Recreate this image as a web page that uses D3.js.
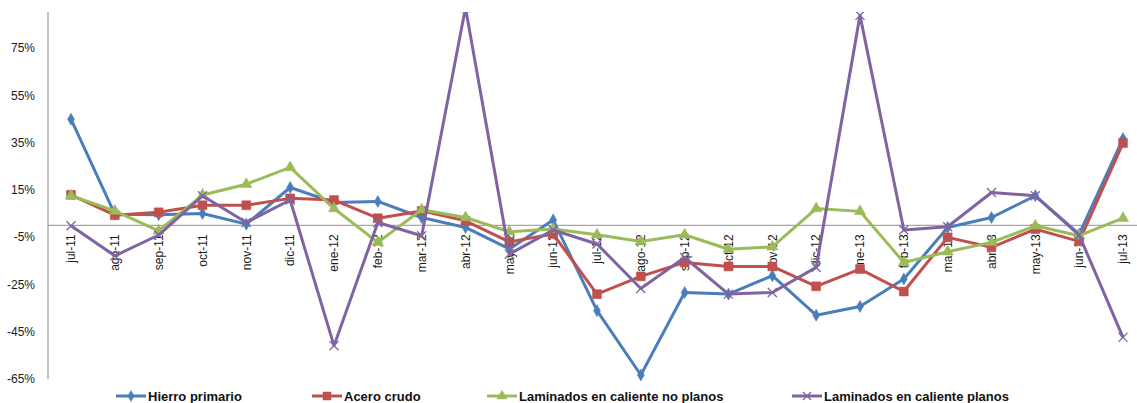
<!DOCTYPE html>
<html>
<head>
<meta charset="utf-8">
<script src="https://cdn.jsdelivr.net/npm/d3@7"></script>
<style>
  html, body { margin: 0; padding: 0; background: #fff; }
  svg { display: block; }
</style>
</head>
<body>
<svg id="chart" width="1137" height="403"></svg>
<script>
// Monthly variation (%) by product, jul-11 .. jul-13
const categories = ["jul-11","ago-11","sep-11","oct-11","nov-11","dic-11","ene-12","feb-12","mar-12","abr-12","may-12","jun-12",
  "jul-12","ago-12","sep-12","oct-12","nov-12","dic-12","ene-13","feb-13","mar-13","abr-13","may-13","jun-13","jul-13"];

const hierroPrimario = [44.9, 4.7, 4.5, 5.0, 0.5, 16.0, 9.7, 10.1, 3.3, -0.9, -10.0, 2.3,
  -36.1, -63.3, -28.4, -29.1, -21.3, -38.0, -34.3, -22.7, -0.9, 3.3, 12.5, -3.7, 36.7];
const aceroCrudo = [12.9, 4.3, 5.5, 8.5, 8.5, 11.4, 10.7, 3.0, 6.1, 1.9, -7.0, -3.7,
  -29.1, -21.6, -15.7, -17.4, -17.4, -25.8, -18.5, -28.0, -5.1, -9.3, -1.6, -6.8, 34.8];
const laminadosNoPlanos = [12.5, 6.1, -2.3, 12.8, 17.4, 24.5, 7.1, -7.2, 6.6, 3.3, -2.7, -1.6,
  -4.0, -6.8, -4.0, -10.1, -9.1, 7.1, 5.9, -15.7, -11.2, -7.2, -0.2, -4.4, 3.0];
const laminadosPlanos = [-0.2, -12.9, -4.1, 12.5, 1.2, 10.7, -50.9, 1.2, -4.4, 92.0, -12.2, -2.0,
  -7.9, -26.7, -13.6, -29.1, -28.4, -17.8, 88.8, -2.0, -0.6, 13.9, 12.5, -4.1, -47.4];

const seriesNames = ["Hierro primario", "Acero crudo", "Laminados en caliente no planos", "Laminados en caliente planos"];
const yTicks = [-65, -45, -25, -5, 15, 35, 55, 75];

const seriesValues = [hierroPrimario, aceroCrudo, laminadosNoPlanos, laminadosPlanos];
const colors = ["#4a7ebb", "#c0504d", "#9bbb59", "#8064a2"];
const symbols = [d3.symbolDiamond, d3.symbolSquare, d3.symbolTriangle, d3.symbolTimes || d3.symbolX];
const symSizes = [42, 80, 55, 55];

const svg = d3.select("#chart");
const W = 1137;
const axisX = 48, plotTop = 12, plotBottom = 379;
const font = "'Liberation Sans', Arial, sans-serif";

const y = d3.scaleLinear().domain([-65, 75]).range([379, 48]);
const x = d3.scalePoint().domain(categories).range([71, 1123]);

svg.append("defs").append("clipPath").attr("id", "plotClip")
  .append("rect").attr("x", axisX).attr("y", plotTop).attr("width", W - axisX).attr("height", plotBottom - plotTop + 6);

// Value axis
const yAxis = d3.axisLeft(y).tickValues(yTicks).tickSize(0).tickPadding(13).tickFormat(d => d + "%");
const gy = svg.append("g").attr("transform", `translate(${axisX},0)`).call(yAxis);
gy.select(".domain").remove();
gy.selectAll("text").attr("font-family", font).attr("font-size", 12).attr("fill", "#1a1a1a");
svg.append("line").attr("x1", axisX).attr("x2", axisX).attr("y1", plotTop).attr("y2", plotBottom)
  .attr("stroke", "#888").attr("stroke-width", 1);

// Category axis along zero
const y0 = y(0);
svg.append("line").attr("x1", axisX).attr("x2", W).attr("y1", y0).attr("y2", y0)
  .attr("stroke", "#a6a6a6").attr("stroke-width", 1.2);

svg.append("g").selectAll("text").data(categories).join("text")
  .attr("transform", d => `translate(${x(d)},${y0 + 9}) rotate(-90)`)
  .attr("text-anchor", "end").attr("dy", "0.35em")
  .attr("font-family", font).attr("font-size", 12).attr("fill", "#1a1a1a")
  .text(d => d);

// Series lines and markers
const plot = svg.append("g").attr("clip-path", "url(#plotClip)");
const line = d3.line().x((d, i) => x(categories[i])).y(d => y(d));

seriesValues.forEach((vals, s) => {
  const g = plot.append("g");
  g.append("path").datum(vals).attr("d", line)
    .attr("fill", "none").attr("stroke", colors[s]).attr("stroke-width", 3).attr("stroke-linejoin", "round");
  const sym = d3.symbol().type(symbols[s]).size(symSizes[s]);
  g.selectAll("path.m").data(vals).join("path").attr("class", "m")
    .attr("transform", (d, i) => `translate(${x(categories[i])},${y(d)})`)
    .attr("d", sym())
    .attr("fill", s === 3 ? "none" : colors[s])
    .attr("stroke", colors[s]).attr("stroke-width", s === 3 ? 1.3 : 0.5);
});

// Legend
const legendX = [131, 327, 502, 807];
const legendY = 396;
const lg = svg.append("g");
seriesNames.forEach((name, s) => {
  const cx = legendX[s];
  lg.append("line").attr("x1", cx - 15).attr("x2", cx + 15).attr("y1", legendY).attr("y2", legendY)
    .attr("stroke", colors[s]).attr("stroke-width", 3);
  lg.append("path").attr("transform", `translate(${cx},${legendY})`)
    .attr("d", d3.symbol().type(symbols[s]).size(symSizes[s] * 0.8)())
    .attr("fill", s === 3 ? "none" : colors[s]).attr("stroke", colors[s]).attr("stroke-width", s === 3 ? 1.3 : 0.5);
  lg.append("text").attr("x", cx + 17).attr("y", legendY).attr("dy", "0.35em")
    .attr("font-family", font).attr("font-weight", "bold")
    .attr("font-size", 13).attr("fill", "#111").text(name);
});
</script>
</body>
</html>
